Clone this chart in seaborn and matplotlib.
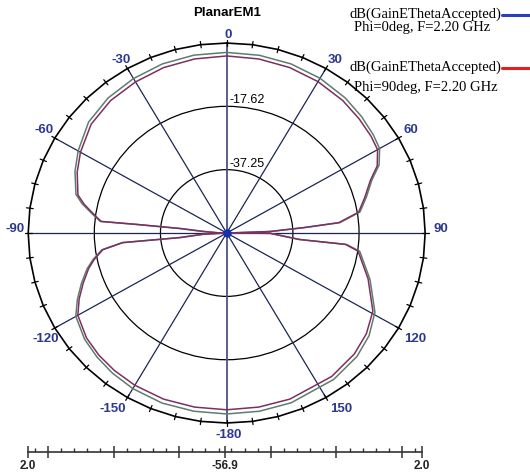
import numpy as np
import pandas as pd
import matplotlib
matplotlib.use("Agg")
import matplotlib.pyplot as plt
import seaborn as sns

# Far-field gain cut, theta in degrees (0 at top, clockwise), gain in dB.
# Points are listed in drawing order around the pattern.
theta_deg = [-180, -170, -160, -150, -142, -135, -128, -120, -115, -110, -105, -101.7,
             -98, -95.5, -95.8, -93, -90, -88, -86, -84.2, -84.3, -84.5, -81.8, -78,
             -75, -67, -60, -50, -40, -30, -20, -10, 0,
             10, 20, 30, 40, 48, 55, 60, 65, 69, 75, 80.6, 84.5, 85.8, 87.9, 90,
             90.4, 95.3, 95.7, 98.2, 108.7, 119.2, 127, 134.7, 145, 160, 170, 180]
gain_phi0 = [-0.8, -0.8, -0.8, -1.2, -1.8, -2.5, -3.4, -5.2, -8.0, -11.0, -14.0, -16.4,
             -19.5, -25.7, -43.0, -50.0, -56.5, -54.0, -50.0, -43.0, -30.0, -19.2, -16.8, -13.0,
             -10.6, -8.0, -6.0, -3.4, -2.2, -1.6, -1.1, -0.9, -0.9,
             -0.95, -1.1, -1.5, -2.2, -3.0, -3.8, -4.5, -7.0, -10.7, -14.0, -16.8, -23.1, -33.6, -44.0, -56.5,
             -44.0, -35.0, -21.1, -17.0, -12.0, -6.5, -4.0, -2.5, -1.5, -0.9, -0.8, -0.8]
gain_phi90 = [-2.1, -2.1, -2.1, -2.4, -2.8, -3.3, -4.1, -5.9, -8.6, -11.6, -14.5, -16.8,
              -19.8, -26.0, -43.0, -50.0, -56.5, -54.0, -50.0, -43.0, -30.3, -19.5, -17.2, -13.6,
              -11.2, -8.7, -6.8, -4.4, -3.3, -2.8, -2.3, -2.1, -2.0,
              -2.1, -2.3, -2.7, -3.3, -4.0, -4.6, -5.2, -7.6, -11.2, -14.5, -17.2, -23.5, -34.0, -44.0, -56.5,
              -44.0, -35.3, -21.5, -17.5, -12.6, -7.2, -5.0, -3.6, -2.6, -2.1, -2.1, -2.1]

trace_names = ["Phi=0deg", "Phi=90deg"]
trace_colors = ["#5e7d6a", "#7c2f62"]

r_min, r_max = -56.9, 2.0
ring_values = [-37.25, -17.62]
ring_labels = ["-37.25", "-17.62"]
spoke_angles = [0, 30, 60, 90, 120, 150, 180, 210, 240, 270, 300, 330]
spoke_labels = ["0", "30", "60", "90", "120", "150", "-180", "-150", "-120", "-90", "-60", "-30"]

# pixel centres of the angle labels (layout)
W, H = 530, 472
label_px = {"0": (228, 34.5), "30": (335, 60), "60": (411, 130), "90": (440.5, 228.5),
            "120": (415, 339), "150": (341, 409), "-180": (228.5, 435),
            "-150": (113, 409), "-120": (46, 339), "-90": (15, 228.5),
            "-60": (44, 130), "-30": (121, 60)}

navy = "#2b3990"

sns.set_style("white")
plt.rcParams["font.family"] = ["Liberation Sans", "DejaVu Sans"]

fig = plt.figure(figsize=(W / 100, H / 100), dpi=100)
ax = fig.add_axes([0.0532, 0.1038, 0.749, 0.805], projection="polar")
ax.set_aspect("auto")
ax.set_theta_zero_location("N")
ax.set_theta_direction(-1)
ax.set_ylim(r_min, r_max)

ax.set_xticks(np.deg2rad(spoke_angles))
ax.set_xticklabels([])
ax.xaxis.grid(False)
ax.set_yticks(ring_values)
ax.set_yticklabels([])
ax.yaxis.grid(True, color="black", lw=0.9)
ax.spines["polar"].set_visible(False)

# spokes
for a in spoke_angles:
    col = "#4a5580" if a in (0, 180) else "#1b2655"
    lw = 1.3 if a in (0, 180) else 0.9
    ax.plot([np.deg2rad(a)] * 2, [r_min, r_max], color=col, lw=lw, zorder=2)

# outer boundary drawn as a polygon with small tick marks every 7.5 degrees
edge_angles = np.deg2rad(np.arange(0, 367.5, 7.5))
ax.plot(edge_angles, [r_max] * len(edge_angles), color="black", lw=1.2,
        clip_on=False, zorder=3)
for a in edge_angles[:-1]:
    ax.plot([a, a], [r_max - 1.0, r_max + 1.0], color="black", lw=0.9,
            clip_on=False, zorder=3)

# angle labels
for lab in spoke_labels:
    x, y = label_px[lab]
    fig.text(x / W, 1 - y / H, lab, ha="center", va="center", color=navy,
             fontweight="bold", fontsize=9.5)

# ring value labels
for v, lab in zip(ring_values, ring_labels):
    ax.annotate(lab, xy=(0, v), xytext=(2, 0), textcoords="offset points",
                ha="left", va="bottom", fontsize=9, color="black")

# gain traces
df = pd.DataFrame({
    "theta": np.deg2rad(np.concatenate([theta_deg, theta_deg])),
    "gain": np.concatenate([gain_phi0, gain_phi90]),
    "trace": [trace_names[0]] * len(theta_deg) + [trace_names[1]] * len(theta_deg),
})
sns.lineplot(data=df, x="theta", y="gain", hue="trace", palette=trace_colors,
             sort=False, estimator=None, legend=False, lw=1.1, ax=ax, zorder=4)
ax.set_xlabel("")
ax.set_ylabel("")
ax.plot([0], [r_min], "o", color="#1030b0", ms=5, zorder=5)

# title
fig.text(226.7 / W, 1 - 13.5 / H, "PlanarEM1", ha="center", va="center",
         fontsize=9.5, fontweight="bold", color="black")

# legend entries
serif = ["Liberation Serif", "DejaVu Serif"]
legend_rows = [
    ("dB(GainEThetaAccepted)", "Phi=0deg, F=2.20 GHz", 14, 27, 422.5, "#2a40c0"),
    ("dB(GainEThetaAccepted)", "Phi=90deg, F=2.20 GHz", 67, 88, 426, "#e0201c"),
]
for name, sub, y1, y2, xc, col in legend_rows:
    fig.text(501 / W, 1 - y1 / H, name, ha="right", va="center",
             fontsize=10.5, family=serif, color="black")
    fig.text(xc / W, 1 - y2 / H, sub, ha="center", va="center",
             fontsize=10.5, family=serif, color="black")
    fig.add_artist(plt.Line2D([502 / W, 1.0], [1 - (y1 + 1) / H] * 2,
                              color=col, lw=2.2, transform=fig.transFigure))

# radial scale bar under the plot
rax = fig.add_axes([28 / W, 1 - 451.7 / H, 394 / W, 0.001])
rax.set_xlim(-58.9, 58.9)
rax.set_ylim(0, 1)
for s in ["top", "left", "right"]:
    rax.spines[s].set_visible(False)
rax.spines["bottom"].set_color("#333333")
rax.spines["bottom"].set_linewidth(1.2)
rax.set_yticks([])
major = [-58.9, -52.96, -33.33, -13.7, 0.0, 13.7, 33.33, 52.96, 58.9]
step = 19.63 / 5
minor = [m for m in np.round(np.concatenate([
    np.arange(13.7, 58.9, step), -np.arange(13.7, 58.9, step),
    np.arange(13.7, 0, -step), -np.arange(13.7, 0, -step)]), 2)
    if min(abs(m - np.array(major))) > 0.5]
rax.set_xticks(major)
rax.set_xticklabels(["2.0", "", "", "", "-56.9", "", "", "", "2.0"],
                    fontsize=8.5, fontweight="bold", color="#222222")
rax.set_xticks(minor, minor=True)
rax.tick_params(axis="x", which="major", direction="inout", length=8, width=1.1,
                color="#333333", pad=2, bottom=True)
rax.tick_params(axis="x", which="minor", direction="in", length=3, width=1.0,
                color="#333333", bottom=True)
rax.patch.set_alpha(0)

fig.savefig("out.png", dpi=100)
